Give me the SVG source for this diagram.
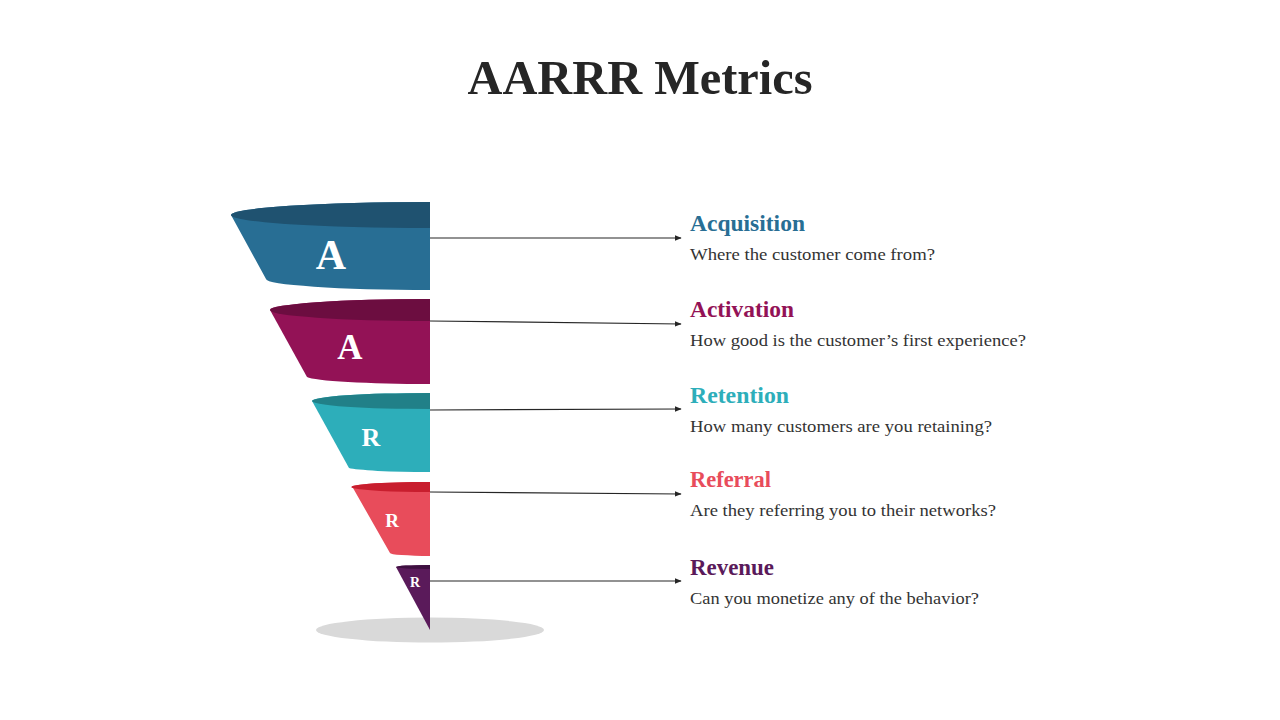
<svg xmlns="http://www.w3.org/2000/svg" width="1280" height="720" viewBox="0 0 1280 720">
<defs>
<style>
.title{font-family:"Liberation Serif","DejaVu Serif",serif;font-weight:bold;fill:#262626}
.h{font-family:"Liberation Serif","DejaVu Serif",serif;font-weight:bold;font-size:23px}
.d{font-family:"Liberation Serif","DejaVu Serif",serif;font-size:17.5px;fill:#333333}
.lt{font-family:"Liberation Serif","DejaVu Serif",serif;font-weight:bold;fill:#ffffff;text-anchor:middle}
.conn{stroke:#262626;stroke-width:1.2;fill:none;marker-end:url(#arr)}
</style>
<marker id="arr" viewBox="0 0 10 10" refX="9" refY="5" markerWidth="7" markerHeight="7" orient="auto" markerUnits="userSpaceOnUse">
<path d="M0,1 L10,5 L0,9 Z" fill="#262626"/>
</marker>
</defs>
<rect width="1280" height="720" fill="#ffffff"/>
<text class="title" x="640" y="94" font-size="48" text-anchor="middle" textLength="345" lengthAdjust="spacingAndGlyphs">AARRR Metrics</text>

<ellipse id="shadow" cx="430" cy="630" rx="114" ry="12.5" fill="#d9d9d9"/>

<g id="seg1">
<path d="M231,215 L266,279 A164,11 0 0 0 430,290 L430,202 A199,13 0 0 0 231,215 Z" fill="#286e94"/>
<path d="M231,215 A199,13 0 0 1 430,202 L430,228 A199,13 0 0 1 231,215 Z" fill="#1f5270"/>
<text class="lt" x="331" y="269" font-size="42">A</text>
</g>
<g id="seg2">
<path d="M270,310 L307,377 A123,8 0 0 0 430,384 L430,299 A160,11 0 0 0 270,310 Z" fill="#931256"/>
<path d="M270,310 A160,11 0 0 1 430,299 L430,321 A160,11 0 0 1 270,310 Z" fill="#6c0d40"/>
<text class="lt" x="350" y="359" font-size="35">A</text>
</g>
<g id="seg3">
<path d="M312,401 L349,468 A81,5 0 0 0 430,472 L430,393 A118,8 0 0 0 312,401 Z" fill="#2daeba"/>
<path d="M312,401 A118,8 0 0 1 430,393 L430,409 A118,8 0 0 1 312,401 Z" fill="#218088"/>
<text class="lt" x="371" y="446" font-size="26">R</text>
</g>
<g id="seg4">
<path d="M353,488 L390,553 A40,3 0 0 0 430,556 L430,482 A77,5 0 0 0 353,488 Z" fill="#e84c5b"/>
<path d="M353,488 A77,5 0 0 1 430,482 L430,492 A77,5 0 0 1 353,488 Z" fill="#c81e2e"/>
<text class="lt" x="392" y="527" font-size="19">R</text>
</g>
<g id="seg5">
<path d="M396,567 L430,630 L430,565 A34,2 0 0 0 396,567 Z" fill="#5a1a5a"/>
<path d="M396,567 A34,2 0 0 1 430,565 L430,569 A34,2 0 0 1 396,567 Z" fill="#3e1040"/>
<text class="lt" x="415" y="587" font-size="14">R</text>
</g>

<g id="connectors">
<line class="conn" x1="430" y1="238" x2="681" y2="238"/>
<line class="conn" x1="430" y1="321" x2="681" y2="324"/>
<line class="conn" x1="430" y1="410" x2="681" y2="409"/>
<line class="conn" x1="430" y1="492" x2="681" y2="494"/>
<line class="conn" x1="430" y1="581" x2="681" y2="581"/>
</g>

<g id="acquisition">
<text class="h" x="690" y="231" fill="#286e94" textLength="115" lengthAdjust="spacingAndGlyphs">Acquisition</text>
<text class="d" x="690" y="260" textLength="245" lengthAdjust="spacingAndGlyphs">Where the customer come from?</text>
</g>
<g id="activation">
<text class="h" x="690" y="317" fill="#931256" textLength="104" lengthAdjust="spacingAndGlyphs">Activation</text>
<text class="d" x="690" y="346" textLength="336" lengthAdjust="spacingAndGlyphs">How good is the customer’s first experience?</text>
</g>
<g id="retention">
<text class="h" x="690" y="403" fill="#2daeba" textLength="99" lengthAdjust="spacingAndGlyphs">Retention</text>
<text class="d" x="690" y="432" textLength="302" lengthAdjust="spacingAndGlyphs">How many customers are you retaining?</text>
</g>
<g id="referral">
<text class="h" x="690" y="487" fill="#e84c5b" textLength="81" lengthAdjust="spacingAndGlyphs">Referral</text>
<text class="d" x="690" y="516" textLength="306" lengthAdjust="spacingAndGlyphs">Are they referring you to their networks?</text>
</g>
<g id="revenue">
<text class="h" x="690" y="575" fill="#5a1a5a" textLength="84" lengthAdjust="spacingAndGlyphs">Revenue</text>
<text class="d" x="690" y="604" textLength="289" lengthAdjust="spacingAndGlyphs">Can you monetize any of the behavior?</text>
</g>
</svg>
